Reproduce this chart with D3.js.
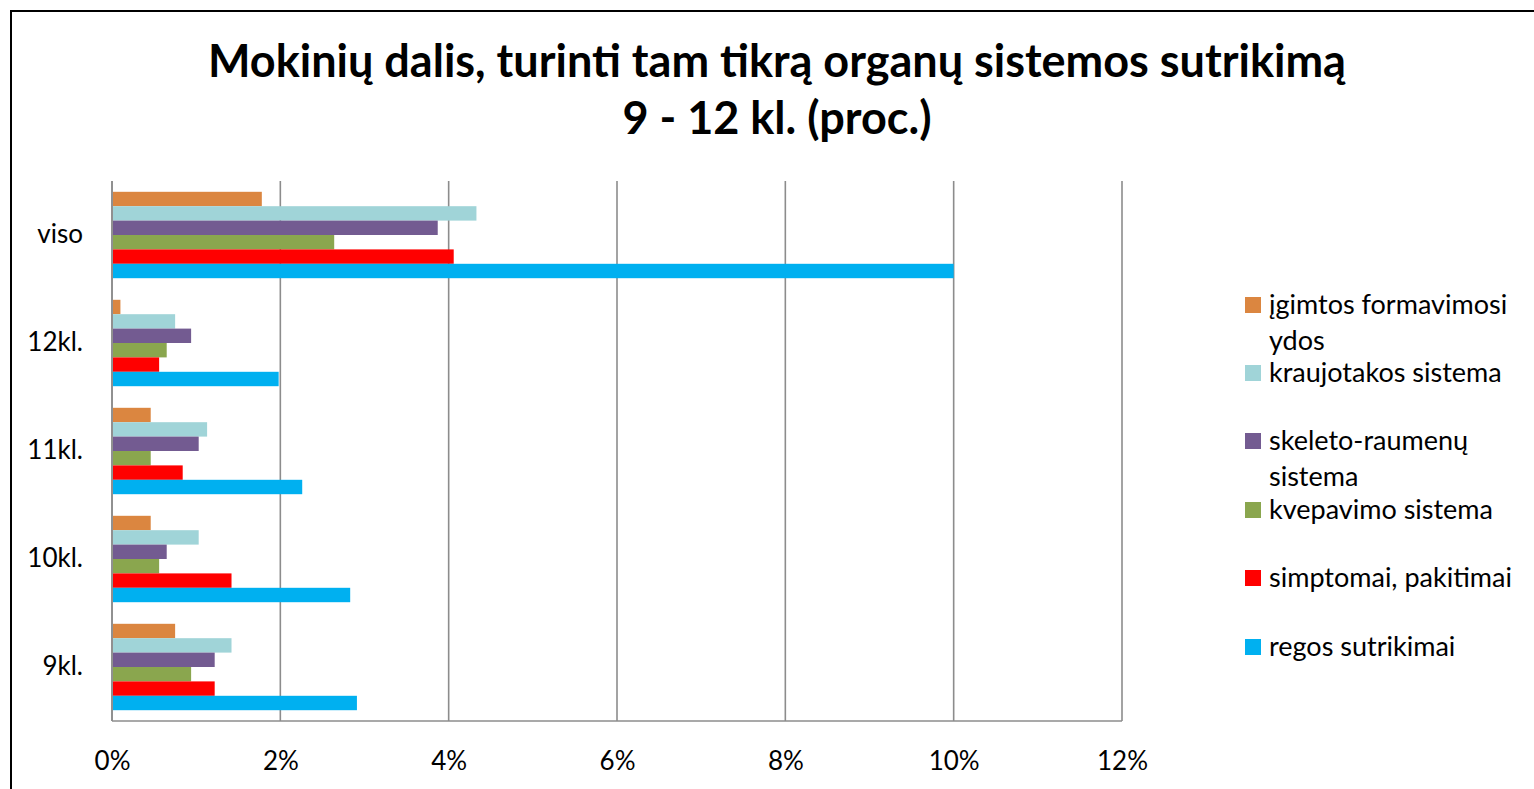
<!DOCTYPE html>
<html lang="lt">
<head>
<meta charset="UTF-8" />
<title>Mokinių dalis, turinti tam tikrą organų sistemos sutrikimą</title>
<style>
  body { margin: 0; background: #fff; }
  svg { display: block; }
  text { font-family: Lato, "Open Sans", sans-serif; fill: #000; }
  .grid line { stroke: #8c8c8c; stroke-width: 1.6px; }
</style>
</head>
<body>
<svg width="1534" height="789"></svg>
<script src="https://d3js.org/d3.v7.min.js"></script>
<script>
  const categories = ["viso", "12kl.", "11kl.", "10kl.", "9kl."];
  const seriesNames = [
    "įgimtos formavimosi ydos",
    "kraujotakos sistema",
    "skeleto-raumenų sistema",
    "kvepavimo sistema",
    "simptomai, pakitimai",
    "regos sutrikimai"
  ];
  // one value per category, same order as categories (percent)
  const igimtos     = [1.78, 0.10, 0.46, 0.46, 0.75];
  const kraujotakos = [4.33, 0.75, 1.13, 1.03, 1.42];
  const skeleto     = [3.87, 0.94, 1.03, 0.65, 1.22];
  const kvepavimo   = [2.64, 0.65, 0.46, 0.56, 0.94];
  const simptomai   = [4.06, 0.56, 0.84, 1.42, 1.22];
  const regos       = [10.0, 1.98, 2.26, 2.83, 2.91];
  const xTicks = [0, 2, 4, 6, 8, 10, 12];
  const colors = ["#db8640", "#a0d4d8", "#735b91", "#8aa64e", "#ff0000", "#00b0f0"];

  const seriesValues = [igimtos, kraujotakos, skeleto, kvepavimo, simptomai, regos];

  const svg = d3.select("svg");

  // outer frame (cut off at right and bottom)
  svg.append("rect")
    .attr("x", 11).attr("y", 11)
    .attr("width", 1600).attr("height", 900)
    .attr("fill", "none").attr("stroke", "#000").attr("stroke-width", 2);

  // title
  const title = svg.append("text")
    .attr("x", 777).attr("text-anchor", "middle")
    .style("font-weight", "bold").style("font-size", "45px");
  title.append("tspan").attr("x", 777).attr("y", 77)
    .text("Mokinių dalis, turinti tam tikrą organų sistemos sutrikimą");
  title.append("tspan").attr("x", 777).attr("y", 134)
    .text("9 - 12 kl. (proc.)");

  const plot = { left: 112, right: 1122, top: 181, bottom: 721 };

  const x = d3.scaleLinear().domain([0, 12]).range([plot.left, plot.right]);
  const y = d3.scaleBand().domain(categories).range([plot.top, plot.bottom]).paddingInner(0.2).paddingOuter(0.1);
  const ySub = d3.scaleBand().domain(d3.range(seriesNames.length)).range([0, y.bandwidth()]);

  // vertical gridlines
  svg.append("g").attr("class", "grid")
    .selectAll("line")
    .data(xTicks)
    .join("line")
    .attr("x1", d => x(d)).attr("x2", d => x(d))
    .attr("y1", plot.top).attr("y2", plot.bottom);

  // bottom axis line
  svg.append("line")
    .attr("x1", plot.left).attr("x2", plot.right)
    .attr("y1", plot.bottom).attr("y2", plot.bottom)
    .attr("stroke", "#8c8c8c").attr("stroke-width", 1.6);

  // bars
  const groups = svg.append("g")
    .selectAll("g")
    .data(categories)
    .join("g")
    .attr("transform", d => `translate(0,${y(d)})`);

  groups.selectAll("rect")
    .data((c, ci) => seriesValues.map((vals, si) => ({ si, v: vals[ci] })))
    .join("rect")
    .attr("x", x(0) + 1)
    .attr("y", d => ySub(d.si))
    .attr("width", d => x(d.v) - x(0) - 1)
    .attr("height", ySub.bandwidth())
    .attr("fill", d => colors[d.si]);

  // left axis line drawn over bars
  svg.append("line")
    .attr("x1", plot.left).attr("x2", plot.left)
    .attr("y1", plot.top).attr("y2", plot.bottom)
    .attr("stroke", "#8c8c8c").attr("stroke-width", 1.6);

  // x tick labels
  const xAxis = d3.axisBottom(x).tickValues(xTicks).tickFormat(d => d + "%").tickSize(0).tickPadding(0);
  const gx = svg.append("g").attr("transform", `translate(0,${plot.bottom + 31})`).call(xAxis);
  gx.select(".domain").remove();
  gx.selectAll("text").style("font-size", "26px").attr("font-family", null);

  // category labels
  const yAxis = d3.axisLeft(y).tickSize(0).tickPadding(0);
  const gy = svg.append("g").attr("transform", `translate(${plot.left - 29},0)`).call(yAxis);
  gy.select(".domain").remove();
  gy.selectAll("text").style("font-size", "26px").attr("font-family", null);

  // legend
  const legendRows = [
    { lines: ["įgimtos formavimosi", "ydos"], y: 305 },
    { lines: ["kraujotakos sistema"], y: 373 },
    { lines: ["skeleto-raumenų", "sistema"], y: 441 },
    { lines: ["kvepavimo sistema"], y: 510 },
    { lines: ["simptomai, pakitimai"], y: 578 },
    { lines: ["regos sutrikimai"], y: 647 }
  ];
  const legend = svg.append("g")
    .selectAll("g")
    .data(legendRows)
    .join("g")
    .attr("transform", d => `translate(1245,${d.y})`);

  legend.append("rect")
    .attr("x", 0).attr("y", -8).attr("width", 16).attr("height", 16)
    .attr("fill", (d, i) => colors[i]);

  legend.append("text")
    .attr("x", 24)
    .style("font-size", "27px")
    .selectAll("tspan")
    .data(d => d.lines)
    .join("tspan")
    .attr("x", 24)
    .attr("y", (d, i) => 9 + i * 36)
    .text(d => d);
</script>
</body>
</html>
